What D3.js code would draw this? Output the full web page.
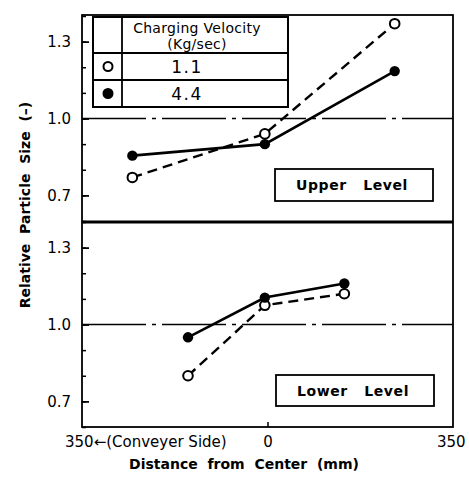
<!DOCTYPE html>
<html>
<head>
<meta charset="utf-8">
<script src="https://cdn.jsdelivr.net/npm/d3@7"></script>
<style>
  html, body { margin: 0; padding: 0; background: #fff; }
  svg { display: block; font-family: 'DejaVu Sans', sans-serif; }
</style>
</head>
<body>
<svg id="vis_svg" width="469" height="479"></svg>
<script>
// positions (mm from center) and relative particle size
const upperX = [-255, -5, 240];
const upperSlow = [0.77, 0.94, 1.37];   // 1.1 kg/sec (open)
const upperFast = [0.855, 0.90, 1.185]; // 4.4 kg/sec (filled)

const lowerX = [-150, -5, 145];
const lowerSlow = [0.80, 1.075, 1.12];
const lowerFast = [0.95, 1.105, 1.16];

const majorTicks = [0.7, 1.0, 1.3];
const minorTicks = [0.6, 0.7, 0.8, 0.9, 1.0, 1.1, 1.2, 1.3, 1.4];
const velocities = ['1.1', '4.4'];

const FONT = "'DejaVu Sans', sans-serif";
const svg = d3.select('#vis_svg');

const left = 82, right = 453;
const xScale = d3.scaleLinear().domain([-350, 350]).range([left, right]);

const panels = [
  { top: 16, bottom: 221, xs: upperX, slow: upperSlow, fast: upperFast, label: 'Upper   Level', box: [275, 169, 158, 32] },
  { top: 222, bottom: 427, xs: lowerX, slow: lowerSlow, fast: lowerFast, label: 'Lower   Level', box: [276, 375, 158, 31] },
];

panels.forEach((p) => {
  const yScale = d3.scaleLinear().domain([0.6, 1.4]).range([p.bottom, p.top]);
  const g = svg.append('g');

  // reference line at 1.0
  g.append('line')
    .attr('x1', left).attr('x2', right)
    .attr('y1', yScale(1.0)).attr('y2', yScale(1.0))
    .attr('stroke', '#000').attr('stroke-width', 1.6)
    .attr('stroke-dasharray', '64,6,4,6');

  // minor + major ticks pointing inward
  g.append('g')
    .attr('transform', `translate(${left},0)`)
    .call(d3.axisLeft(yScale).tickValues(minorTicks).tickSize(-4).tickFormat(''))
    .call((a) => a.select('.domain').remove())
    .selectAll('line').attr('stroke-width', 1.5);

  g.append('g')
    .attr('transform', `translate(${left},0)`)
    .call(d3.axisLeft(yScale).tickValues(majorTicks).tickSize(-7).tickPadding(11).tickFormat(d3.format('.1f')))
    .call((a) => a.select('.domain').remove())
    .call((a) => a.selectAll('line').attr('stroke-width', 1.8))
    .selectAll('text')
    .attr('font-size', 15)
    .attr('font-family', FONT)
    .attr('fill', '#000');

  const line = d3.line().x((d) => xScale(d[0])).y((d) => yScale(d[1]));

  g.append('path')
    .datum(p.xs.map((x, i) => [x, p.slow[i]]))
    .attr('d', line)
    .attr('fill', 'none').attr('stroke', '#000').attr('stroke-width', 2.4)
    .attr('stroke-dasharray', '10,6');

  g.append('path')
    .datum(p.xs.map((x, i) => [x, p.fast[i]]))
    .attr('d', line)
    .attr('fill', 'none').attr('stroke', '#000').attr('stroke-width', 2.6);

  g.selectAll('.slow')
    .data(p.xs.map((x, i) => [x, p.slow[i]]))
    .enter().append('circle')
    .attr('cx', (d) => xScale(d[0])).attr('cy', (d) => yScale(d[1]))
    .attr('r', 4.8).attr('fill', '#fff').attr('stroke', '#000').attr('stroke-width', 2);

  g.selectAll('.fast')
    .data(p.xs.map((x, i) => [x, p.fast[i]]))
    .enter().append('circle')
    .attr('cx', (d) => xScale(d[0])).attr('cy', (d) => yScale(d[1]))
    .attr('r', 5.2).attr('fill', '#000');

  // level label box
  g.append('rect')
    .attr('x', p.box[0]).attr('y', p.box[1]).attr('width', p.box[2]).attr('height', p.box[3])
    .attr('fill', '#fff').attr('stroke', '#000').attr('stroke-width', 1.8);
  g.append('text')
    .attr('x', p.box[0] + p.box[2] / 2 - 2).attr('y', p.box[1] + p.box[3] / 2 + 5)
    .attr('text-anchor', 'middle').attr('font-size', 14).attr('font-weight', 'bold')
    .attr('letter-spacing', 0.6)
    .attr('xml:space', 'preserve').style('white-space', 'pre')
    .text(p.label);
});

// frames
svg.append('rect')
  .attr('x', left).attr('y', 15).attr('width', right - left).attr('height', 427 - 15)
  .attr('fill', 'none').attr('stroke', '#000').attr('stroke-width', 1.8);
svg.append('line')
  .attr('x1', left).attr('x2', right).attr('y1', 222).attr('y2', 222)
  .attr('stroke', '#000').attr('stroke-width', 3.2);

// legend table
const lg = svg.append('g');
const lgL = 93, lgR = 288, lgCol = 122;
const rowsY = [17, 53, 80, 107];
lg.append('rect')
  .attr('x', lgL).attr('y', rowsY[0]).attr('width', lgR - lgL).attr('height', rowsY[3] - rowsY[0])
  .attr('fill', '#fff').attr('stroke', '#000').attr('stroke-width', 2);
lg.append('line').attr('x1', lgCol).attr('x2', lgCol).attr('y1', rowsY[0]).attr('y2', rowsY[3])
  .attr('stroke', '#000').attr('stroke-width', 1.8);
[rowsY[1], rowsY[2]].forEach((y) => {
  lg.append('line').attr('x1', lgL).attr('x2', lgR).attr('y1', y).attr('y2', y)
    .attr('stroke', '#000').attr('stroke-width', 1.8);
});
lg.append('text').attr('x', 197).attr('y', 33).attr('text-anchor', 'middle')
  .attr('font-size', 14).attr('letter-spacing', 0.3).text('Charging Velocity');
lg.append('text').attr('x', 197).attr('y', 49).attr('text-anchor', 'middle')
  .attr('font-size', 14).attr('letter-spacing', 0.3).text('(Kg/sec)');
velocities.forEach((v, i) => {
  const cy = (rowsY[i + 1] + rowsY[i + 2]) / 2;
  lg.append('circle').attr('cx', 108).attr('cy', cy).attr('r', 4.5)
    .attr('fill', i === 0 ? '#fff' : '#000').attr('stroke', '#000').attr('stroke-width', 2);
  lg.append('text').attr('x', 187).attr('y', cy + 6).attr('text-anchor', 'middle')
    .attr('font-size', 17).attr('letter-spacing', 1.5).text(v);
});

// x axis: single inward tick at 0
svg.append('g')
  .attr('transform', 'translate(0,427)')
  .call(d3.axisBottom(xScale).tickValues([0]).tickSize(-5).tickPadding(9).tickFormat(d3.format('d')))
  .call((a) => a.select('.domain').remove())
  .call((a) => a.selectAll('line').attr('stroke-width', 1.5))
  .selectAll('text')
  .attr('font-size', 15).attr('font-family', FONT).attr('fill', '#000');

svg.append('text').attr('x', xScale(-350) - 17).attr('y', 447)
  .attr('font-size', 15).text('350\u2190(Conveyer Side)');
svg.append('text').attr('x', xScale(350) - 16).attr('y', 447)
  .attr('font-size', 15).text('350');

svg.append('text').attr('x', 244).attr('y', 469).attr('text-anchor', 'middle')
  .attr('font-size', 14).attr('font-weight', 'bold')
  .attr('xml:space', 'preserve').style('white-space', 'pre')
  .text('Distance  from  Center  (mm)');

svg.append('text')
  .attr('transform', 'translate(30,205) rotate(-90)')
  .attr('text-anchor', 'middle').attr('font-size', 14).attr('font-weight', 'bold')
  .attr('xml:space', 'preserve').style('white-space', 'pre')
  .text('Relative  Particle  Size  (\u2013)');
</script>
</body>
</html>
